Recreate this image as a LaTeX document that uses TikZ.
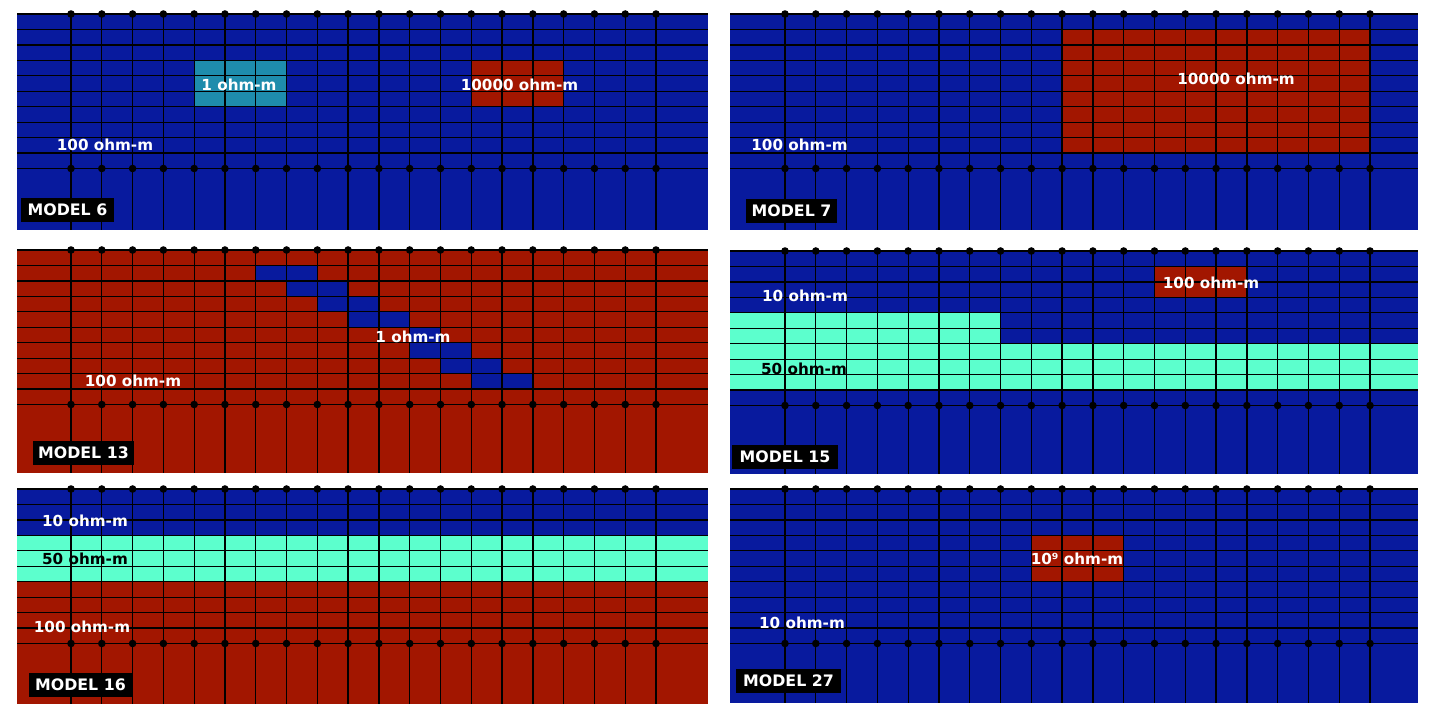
\documentclass[tikz,border=0pt]{standalone}
\usepackage{fontspec}
\setmainfont{DejaVu Sans}
\usetikzlibrary{positioning}
\definecolor{resblue}{RGB}{8,26,158}
\definecolor{resred}{RGB}{162,22,0}
\definecolor{resteal}{RGB}{30,140,172}
\definecolor{resaqua}{RGB}{92,255,205}
\tikzset{
  mg line/.style={black, line width=1.3pt},
  mg lab/.style={font=\fontsize{15.2}{16}\selectfont\bfseries, text=white, inner sep=0pt},
  mg lab dark/.style={mg lab, text=black},
  mg tag/.style={fill=black, text=white, font=\fontsize{15.8}{17}\selectfont\bfseries,
                 inner xsep=0pt, inner ysep=0pt, minimum height=24pt},
}
\begin{document}
\begin{tikzpicture}[x=1pt, y=-1pt]
  \useasboundingbox (0,0) rectangle (1433,720);
  % backgrounds of the six panels
  \fill[resblue] (17,14)   rectangle (708,230);
  \fill[resblue] (730,14)  rectangle (1418,230);
  \fill[resred]  (17,250)  rectangle (708,473);
  \fill[resblue] (730,251) rectangle (1418,474);
  \fill[resred]  (17,489)  rectangle (708,704);
  \fill[resblue] (730,489) rectangle (1418,703);
  % model 6: two blocks
  \fill[resteal] (194.2,60.35) rectangle (286.5,106.7);
  \fill[resred]  (471.3,60.35) rectangle (563.6,106.7);
  % model 7: large resistive block
  \fill[resred]  (1062.1,29.45) rectangle (1370,153.05);
  % model 13: dipping conductor
  \foreach \r/\a/\b in {1/6/8, 2/7/9, 3/8/10, 4/9/11, 5/11/12, 6/11/13, 7/12/14, 8/13/15}
    \fill[resblue] ({71+30.79*\a},{250+15.45*\r}) rectangle ({71+30.79*\b},{250+15.45*(\r+1)});
  % model 15: stepped layer and small block
  \fill[resaqua] (730,312.8) rectangle (1000.5,390);
  \fill[resaqua] (1000.5,343.7) rectangle (1418,390);
  \fill[resred]  (1154.5,266.45) rectangle (1246.9,297.35);
  % model 16: three layers
  \fill[resblue] (17,489) rectangle (708,535.35);
  \fill[resaqua] (17,535.35) rectangle (708,581.7);
  % model 27: small block
  \fill[resred]  (1031.3,535.35) rectangle (1123.7,581.7);
  % mesh lines and electrodes
  \foreach \L/\F/\R/\T/\B in {17/71/708/14/230, 730/785/1418/14/230, 17/71/708/250/473,
                              730/785/1418/251/474, 17/71/708/489/704, 730/785/1418/489/703} {
    \foreach \j in {0,...,10}
      \draw[mg line] (\L,{\T+15.45*\j}) -- (\R,{\T+15.45*\j});
    \foreach \k in {0,...,19} {
      \draw[mg line] ({\F+30.79*\k},\T) -- ({\F+30.79*\k},\B);
      \fill ({\F+30.79*\k},\T) circle (3.8);
      \fill ({\F+30.79*\k},{\T+154.5}) circle (3.8);
    }
  }
  % labels
  \node[mg lab] (m6a) at (239,85)    {1 ohm-m};
  \node[mg lab] (m6b) at (519.5,85)  {10000 ohm-m};
  \node[mg lab] (m6c) at (105,145)   {100 ohm-m};
  \node[mg lab] (m7a) at (1236,79)   {10000 ohm-m};
  \node[mg lab] (m7b) at (799.5,145) {100 ohm-m};
  \node[mg lab] (m13a) at (413,337)  {1 ohm-m};
  \node[mg lab] (m13b) at (133,381)  {100 ohm-m};
  \node[mg lab] (m15a) at (805,296)  {10 ohm-m};
  \node[mg lab dark] (m15b) at (804,369) {50 ohm-m};
  \node[mg lab] (m15c) at (1211,283) {100 ohm-m};
  \node[mg lab] (m16a) at (85,521)   {10 ohm-m};
  \node[mg lab dark] (m16b) at (85,559) {50 ohm-m};
  \node[mg lab] (m16c) at (82,627)   {100 ohm-m};
  \node[mg lab] (m27a) at (802,623)  {10 ohm-m};
  \node[mg lab] (m27b) at (1077,559) {10⁹ ohm-m};
  % model tags
  \node[mg tag, minimum width=93pt]  (t6)  at (67.5,209.5) {MODEL 6};
  \node[mg tag, minimum width=91pt]  (t7)  at (791.5,211)  {MODEL 7};
  \node[mg tag, minimum width=101pt] (t13) at (83.5,453)   {MODEL 13};
  \node[mg tag, minimum width=106pt] (t15) at (785,457)    {MODEL 15};
  \node[mg tag, minimum width=103pt] (t16) at (80.5,685)   {MODEL 16};
  \node[mg tag, minimum width=105pt] (t27) at (788.5,680.5){MODEL 27};
\end{tikzpicture}
\end{document}
